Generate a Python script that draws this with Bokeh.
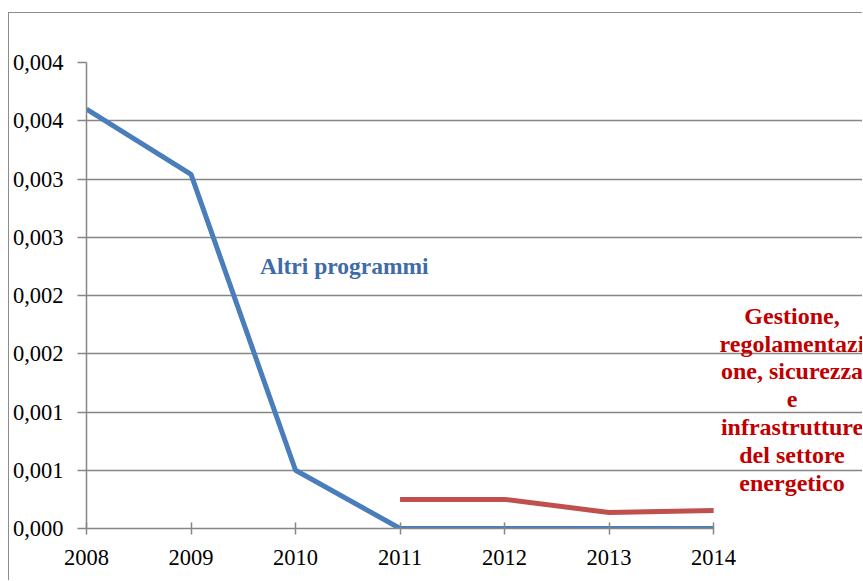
from bokeh.plotting import figure
from bokeh.models import FixedTicker, Label, Range1d
from bokeh.embed import file_html
from bokeh.resources import INLINE

years = [2008, 2009, 2010, 2011, 2012, 2013, 2014]
altri = [0.0036, 0.00304, 0.0005, 0.0, 0.0, 0.0, 0.0]
gest_years = [2011, 2012, 2013, 2014]
gestione = [0.00025, 0.00025, 0.000138, 0.000155]
y_ticks = [0.0, 0.0005, 0.001, 0.0015, 0.002, 0.0025, 0.003, 0.0035, 0.004]
y_tick_labels = ["0,000", "0,001", "0,001", "0,002", "0,002", "0,003", "0,003", "0,004", "0,004"]
label_altri = "Altri programmi"
label_gest = "Gestione,\nregolamentazi\none, sicurezza\ne\ninfrastrutture\ndel settore\nenergetico"

FONT = "Liberation Serif"
GRAY = "#868686"

p = figure(width=854, height=568, output_backend="svg", toolbar_location=None,
           x_range=Range1d(2008, 2015.434), y_range=Range1d(0, 0.004),
           min_border_left=60, min_border_right=0, min_border_top=49, min_border_bottom=53,
           margin=(12, 0, 0, 8),
           styles={"border-left": "1.5px solid #8c8c8c", "border-top": "1.5px solid #8c8c8c"})
p.outline_line_color = None
p.xgrid.visible = False
p.ygrid.grid_line_color = GRAY
p.ygrid.grid_line_width = 1.5
p.ygrid.bounds = (years[0], years[-1])
p.yaxis.ticker = FixedTicker(ticks=y_ticks)
p.yaxis.major_label_overrides = {t: l for t, l in zip(y_ticks, y_tick_labels)}
p.xaxis.ticker = FixedTicker(ticks=years)
p.xaxis.major_label_overrides = {y: str(y) for y in years}
p.xaxis.bounds = (years[0], years[-1])
for ax in (p.xaxis, p.yaxis):
    ax.axis_line_color = GRAY
    ax.axis_line_width = 1.5
    ax.major_tick_line_color = GRAY
    ax.major_tick_line_width = 1.5
    ax.minor_tick_line_color = None
    ax.major_label_text_font = FONT
    ax.major_label_text_font_size = "22.5px"
    ax.major_label_text_color = "black"
p.yaxis.major_tick_in = 0
p.yaxis.major_tick_out = 9
p.yaxis.major_label_standoff = 14
p.xaxis.major_tick_in = 6
p.xaxis.major_tick_out = 6
p.xaxis.major_label_standoff = 15

p.line(years, altri, line_color="#4A7EBB", line_width=5)
p.line(gest_years, gestione, line_color="#C0504D", line_width=5)

p.add_layout(Label(x=2009.66, y=0.002256, text=label_altri, text_font=FONT,
                   text_font_size="23.5px", text_font_style="bold", text_color="#3F6CA8",
                   text_align="left", text_baseline="middle"))
p.add_layout(Label(x=2014.75, y=0.001937, text=label_gest, text_font=FONT,
                   text_font_size="24px", text_font_style="bold", text_color="#C00000",
                   text_align="center", text_baseline="top", text_line_height=1.07))

open("out.html", "w").write(file_html(p, INLINE))
